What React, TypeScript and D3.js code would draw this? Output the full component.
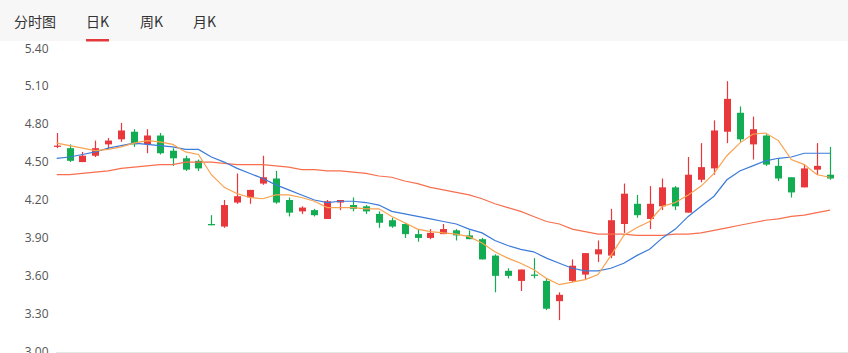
import React, { useEffect, useRef } from 'react';
import * as d3 from 'd3';

// tabs above the chart
const tabs = ['分时图', '日K', '周K', '月K'];
const activeTab = '日K';

const yTicks = [5.4, 5.1, 4.8, 4.5, 4.2, 3.9, 3.6, 3.3, 3.0];

// daily candles
const opens = [
  4.62, 4.61, 4.50, 4.55, 4.64, 4.68, 4.74, 4.64, 4.71, 4.59,
  4.53, 4.51, 4.01, 3.99, 4.18, 4.22, 4.33, 4.37, 4.20, 4.11,
  4.12, 4.05, 4.18, 4.16, 4.15, 4.09, 4.04, 4.01, 3.93, 3.90,
  3.93, 3.96, 3.92, 3.89, 3.76, 3.64, 3.56, 3.61, 3.56, 3.40,
  3.56, 3.61, 3.77, 3.76, 4.01, 4.17, 4.05, 4.15, 4.30, 4.10,
  4.36, 4.45, 4.74, 4.89, 4.64, 4.71, 4.47, 4.38, 4.30, 4.44,
  4.40,
];
const closes = [
  4.63, 4.51, 4.55, 4.61, 4.67, 4.75, 4.64, 4.71, 4.57, 4.53,
  4.44, 4.45, 4.00, 4.16, 4.23, 4.28, 4.38, 4.18, 4.10, 4.14,
  4.08, 4.19, 4.20, 4.13, 4.11, 4.02, 3.99, 3.93, 3.90, 3.94,
  3.97, 3.92, 3.89, 3.73, 3.60, 3.60, 3.65, 3.60, 3.34, 3.45,
  3.68, 3.78, 3.81, 4.04, 4.25, 4.08, 4.17, 4.30, 4.15, 4.40,
  4.46, 4.75, 5.00, 4.68, 4.76, 4.48, 4.37, 4.26, 4.45, 4.47,
  4.37,
];
const highs = [
  4.73, 4.64, 4.58, 4.67, 4.69, 4.81, 4.76, 4.76, 4.73, 4.61,
  4.55, 4.52, 4.08, 4.20, 4.41, 4.28, 4.55, 4.43, 4.22, 4.15,
  4.13, 4.20, 4.20, 4.22, 4.16, 4.11, 4.06, 4.02, 3.97, 3.97,
  4.01, 3.97, 3.96, 3.90, 3.77, 3.66, 3.65, 3.74, 3.58, 3.47,
  3.73, 3.78, 3.88, 4.13, 4.33, 4.24, 4.31, 4.37, 4.31, 4.54,
  4.65, 4.83, 5.14, 4.94, 4.86, 4.72, 4.53, 4.38, 4.48, 4.65,
  4.62,
];
const lows = [
  4.61, 4.50, 4.50, 4.54, 4.60, 4.66, 4.62, 4.57, 4.56, 4.47,
  4.43, 4.43, 4.00, 3.98, 4.17, 4.17, 4.32, 4.17, 4.07, 4.09,
  4.07, 4.05, 4.12, 4.11, 4.09, 3.98, 3.98, 3.90, 3.87, 3.89,
  3.93, 3.88, 3.89, 3.73, 3.47, 3.58, 3.48, 3.58, 3.33, 3.25,
  3.55, 3.57, 3.71, 3.74, 3.94, 4.06, 3.97, 4.12, 4.12, 4.10,
  4.34, 4.40, 4.65, 4.66, 4.52, 4.47, 4.35, 4.22, 4.30, 4.40,
  4.36,
];

// moving average lines
const ma5 = [
  4.65, 4.63, 4.61, 4.59, 4.60, 4.62, 4.65, 4.67, 4.66, 4.64,
  4.58, 4.56, 4.40, 4.30, 4.25, 4.22, 4.21, 4.24, 4.24, 4.22,
  4.19, 4.14, 4.14, 4.14, 4.13, 4.13, 4.07, 4.02, 3.97, 3.95,
  3.94, 3.93, 3.91, 3.86, 3.79, 3.74, 3.70, 3.65, 3.58, 3.53,
  3.55, 3.57, 3.61, 3.76, 3.92, 3.98, 4.03, 4.15, 4.18, 4.24,
  4.31, 4.41, 4.55, 4.65, 4.72, 4.73, 4.67, 4.52, 4.48, 4.40,
  4.38,
];
const ma10 = [
  4.53, 4.54, 4.56, 4.58, 4.61, 4.63, 4.65, 4.64, 4.63, 4.62,
  4.60, 4.60, 4.54, 4.50, 4.45, 4.41, 4.37, 4.32, 4.28, 4.24,
  4.20, 4.18, 4.19, 4.19, 4.18, 4.16, 4.11, 4.09, 4.07, 4.05,
  4.03, 4.01, 3.97, 3.94, 3.88, 3.84, 3.81, 3.79, 3.74, 3.70,
  3.66, 3.64, 3.64, 3.66, 3.70, 3.76, 3.81, 3.90, 3.97, 4.07,
  4.15, 4.23, 4.36, 4.43, 4.47, 4.51, 4.53, 4.54, 4.57, 4.57,
  4.57,
];
const ma30 = [
  4.40, 4.40, 4.41, 4.42, 4.43, 4.45, 4.46, 4.47, 4.48, 4.48,
  4.50, 4.50, 4.50, 4.49, 4.48, 4.48, 4.48, 4.47, 4.46, 4.44,
  4.44, 4.43, 4.43, 4.42, 4.41, 4.39, 4.38, 4.35, 4.33, 4.30,
  4.28, 4.26, 4.24, 4.21, 4.17, 4.14, 4.11, 4.07, 4.03, 4.01,
  3.97, 3.95, 3.93, 3.93, 3.93, 3.92, 3.92, 3.92, 3.93, 3.93,
  3.94, 3.96, 3.98, 4.00, 4.02, 4.04, 4.05, 4.07, 4.08, 4.10,
  4.12,
];

const maLines = [
  { values: ma30, color: '#f76f4f' },
  { values: ma10, color: '#3b7bd9' },
  { values: ma5, color: '#f9a24f' },
];

const UP = '#e8383c';
const DOWN = '#12ad52';

const W = 848;
const H = 353;

const App = () => {
  const svgRef = useRef(null);

  useEffect(() => {
    const svg = d3.select(svgRef.current);
    svg.selectAll('*').remove();

    const font = '"Microsoft YaHei", "Noto Sans CJK SC", "Open Sans", sans-serif';

    // tab bar
    svg.append('rect')
      .attr('x', 0).attr('y', 0)
      .attr('width', W).attr('height', 41)
      .attr('fill', '#f7f7f7');

    const tabX = [14, 86, 140, 193];
    tabs.forEach((t, i) => {
      svg.append('text')
        .attr('x', tabX[i])
        .attr('y', 27)
        .attr('font-family', font)
        .attr('font-size', 14)
        .attr('fill', '#333')
        .text(t);
    });
    const ai = tabs.indexOf(activeTab);
    svg.append('rect')
      .attr('x', tabX[ai]).attr('y', 39)
      .attr('width', 23).attr('height', 2.5)
      .attr('fill', '#e4393c');

    const n = closes.length;
    const x = d3.scaleLinear().domain([0, n - 1]).range([56.7, 830]);
    const y = d3.scaleLinear().domain([3.0, 5.4]).range([351.7, 48.3]);

    // y labels
    svg.append('g')
      .selectAll('text')
      .data(yTicks)
      .enter()
      .append('text')
      .attr('x', 48.5)
      .attr('y', d => y(d))
      .attr('dy', '0.35em')
      .attr('text-anchor', 'end')
      .attr('font-family', '"Open Sans", sans-serif')
      .attr('font-size', 12)
      .attr('fill', '#555')
      .text(d => d.toFixed(2));

    // bottom baseline
    svg.append('line')
      .attr('x1', 56).attr('x2', W)
      .attr('y1', Math.round(y(3.0)) + 0.5).attr('y2', Math.round(y(3.0)) + 0.5)
      .attr('stroke', '#e6e6e6');

    // candles
    const bodyW = 7;
    const candles = svg.append('g')
      .selectAll('g')
      .data(d3.range(n))
      .enter()
      .append('g');

    const col = i => (closes[i] >= opens[i] ? UP : DOWN);

    candles.append('line')
      .attr('x1', i => Math.round(x(i)) + 0.5)
      .attr('x2', i => Math.round(x(i)) + 0.5)
      .attr('y1', i => y(highs[i]))
      .attr('y2', i => y(lows[i]))
      .attr('stroke', col)
      .attr('stroke-width', 1.2);

    candles.append('rect')
      .attr('x', i => Math.round(x(i)) + 0.5 - bodyW / 2)
      .attr('y', i => y(Math.max(opens[i], closes[i])))
      .attr('width', bodyW)
      .attr('height', i => Math.max(1.2, Math.abs(y(opens[i]) - y(closes[i]))))
      .attr('fill', col);

    // moving averages
    const lineGen = d3.line()
      .x((d, i) => x(i))
      .y(d => y(d));

    maLines.forEach(m => {
      svg.append('path')
        .datum(m.values)
        .attr('fill', 'none')
        .attr('stroke', m.color)
        .attr('stroke-width', 1.2)
        .attr('d', lineGen);
    });
  }, []);

  return (
    <svg
      ref={svgRef}
      width={W}
      height={H}
      style={{ position: 'absolute', left: 0, top: 0, background: '#fff' }}
    />
  );
};

export default App;
